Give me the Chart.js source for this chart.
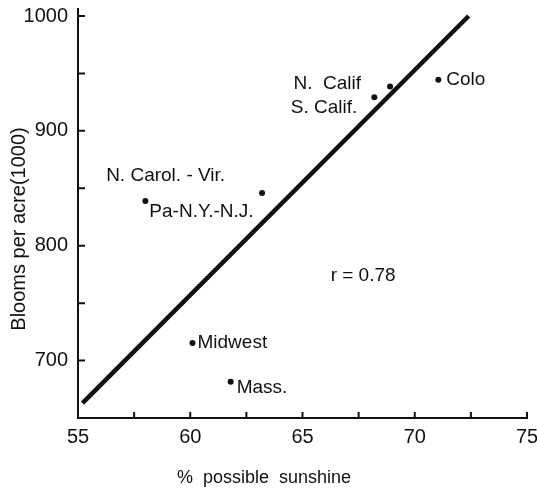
<!DOCTYPE html>
<html>
<head>
<meta charset="utf-8">
<script src="https://cdn.jsdelivr.net/npm/chart.js@4/dist/chart.umd.min.js"></script>
<style>
  body { margin: 0; background: #fff; }
  canvas { display: block; }
</style>
</head>
<body>
<canvas id="chart" width="537" height="492"></canvas>
<script>
// values
const regions = ["Pa-N.Y.-N.J.", "N. Carol. - Vir.", "N.  Calif", "S. Calif.", "Colo", "Midwest", "Mass."];
const sunshine = [58.0, 63.2, 68.9, 68.2, 71.05, 60.1, 61.8];
const blooms = [839, 846, 938.6, 929.3, 944.6, 715.3, 681.6];

// fitted line end points
const fitSunshine = [55.2, 72.4];
const fitBlooms = [663, 1000];

const correlation = "r = 0.78";

// where each label sits next to its dot (pixels)
const labelPlacement = [
  { dx: 4, dy: 11, align: "left" },
  { dx: -37, dy: -17, align: "right" },
  { dx: -29, dy: -3, align: "right" },
  { dx: -17, dy: 11, align: "right" },
  { dx: 8, dy: 0, align: "left" },
  { dx: 5, dy: 0, align: "left" },
  { dx: 6, dy: 6, align: "left" },
];

const FONT = "'Liberation Sans', Arial, sans-serif";
const INK = "#111";

const points = sunshine.map((x, i) => ({ x: x, y: blooms[i] }));
const fit = fitSunshine.map((x, i) => ({ x: x, y: fitBlooms[i] }));

// tick marks pointing into the plot, like the drawn original
const inwardTicks = {
  id: "inwardTicks",
  afterDraw(chart) {
    const { ctx, chartArea, scales } = chart;
    ctx.save();
    ctx.strokeStyle = INK;
    ctx.lineWidth = 2;
    ctx.beginPath();
    scales.x.ticks.forEach((t) => {
      if (t.value === scales.x.min) return;
      const px = scales.x.getPixelForValue(t.value);
      ctx.moveTo(px, chartArea.bottom);
      ctx.lineTo(px, chartArea.bottom - 6);
    });
    scales.y.ticks.forEach((t) => {
      if (t.value === scales.y.min) return;
      const py = scales.y.getPixelForValue(t.value);
      ctx.moveTo(chartArea.left, py);
      ctx.lineTo(chartArea.left + 7, py);
    });
    // axis runs a little past the top tick
    ctx.moveTo(chartArea.left, chartArea.top);
    ctx.lineTo(chartArea.left, chartArea.top - 8);
    ctx.stroke();
    ctx.restore();
  },
};

const textLayer = {
  id: "textLayer",
  afterDraw(chart) {
    const { ctx, scales } = chart;
    ctx.save();
    ctx.fillStyle = INK;
    ctx.textBaseline = "middle";
    ctx.font = "19px " + FONT;

    regions.forEach((name, i) => {
      const p = labelPlacement[i];
      const px = scales.x.getPixelForValue(sunshine[i]);
      const py = scales.y.getPixelForValue(blooms[i]);
      ctx.textAlign = p.align;
      ctx.fillText(name, px + p.dx, py + p.dy);
    });

    ctx.textAlign = "center";
    ctx.fillText(correlation, scales.x.getPixelForValue(67.7), scales.y.getPixelForValue(774));

    // axis titles
    ctx.font = "18px " + FONT;
    ctx.fillText("%  possible  sunshine", 264, 478);

    ctx.font = "20px " + FONT;
    ctx.translate(19, 229);
    ctx.rotate(-Math.PI / 2);
    ctx.fillText("Blooms per acre(1000)", 0, 0);
    ctx.restore();
  },
};

new Chart(document.getElementById("chart"), {
  type: "scatter",
  data: {
    datasets: [
      {
        data: points,
        pointRadius: 3,
        pointBackgroundColor: INK,
        pointBorderColor: INK,
        pointBorderWidth: 0,
      },
      {
        type: "line",
        data: fit,
        borderColor: INK,
        borderWidth: 4.5,
        pointRadius: 0,
        fill: false,
        clip: false,
      },
    ],
  },
  options: {
    responsive: false,
    animation: false,
    layout: { padding: { top: 16, right: 10, left: 0, bottom: 0 } },
    plugins: {
      legend: { display: false },
      tooltip: { enabled: false },
    },
    scales: {
      x: {
        type: "linear",
        min: 55,
        max: 75,
        afterFit: (s) => {
          s.height = 74;
          s.paddingLeft = 0;
          s.paddingRight = 0;
        },
        ticks: {
          stepSize: 2.5,
          autoSkip: false,
          maxRotation: 0,
          padding: 7,
          color: INK,
          font: { family: FONT, size: 20 },
          callback: (v) => (v % 5 === 0 ? v : ""),
        },
        grid: { display: false, drawTicks: false, tickLength: 0 },
        border: { display: true, color: INK, width: 2 },
      },
      y: {
        min: 650,
        max: 1000,
        afterFit: (s) => {
          s.width = 78;
          s.paddingTop = 0;
          s.paddingBottom = 0;
        },
        ticks: {
          stepSize: 50,
          autoSkip: false,
          padding: 10,
          color: INK,
          font: { family: FONT, size: 20 },
          callback: (v) => (v % 100 === 0 && v > 650 ? v : ""),
        },
        grid: { display: false, drawTicks: false, tickLength: 0 },
        border: { display: true, color: INK, width: 2 },
      },
    },
  },
  plugins: [inwardTicks, textLayer],
});
</script>
</body>
</html>
